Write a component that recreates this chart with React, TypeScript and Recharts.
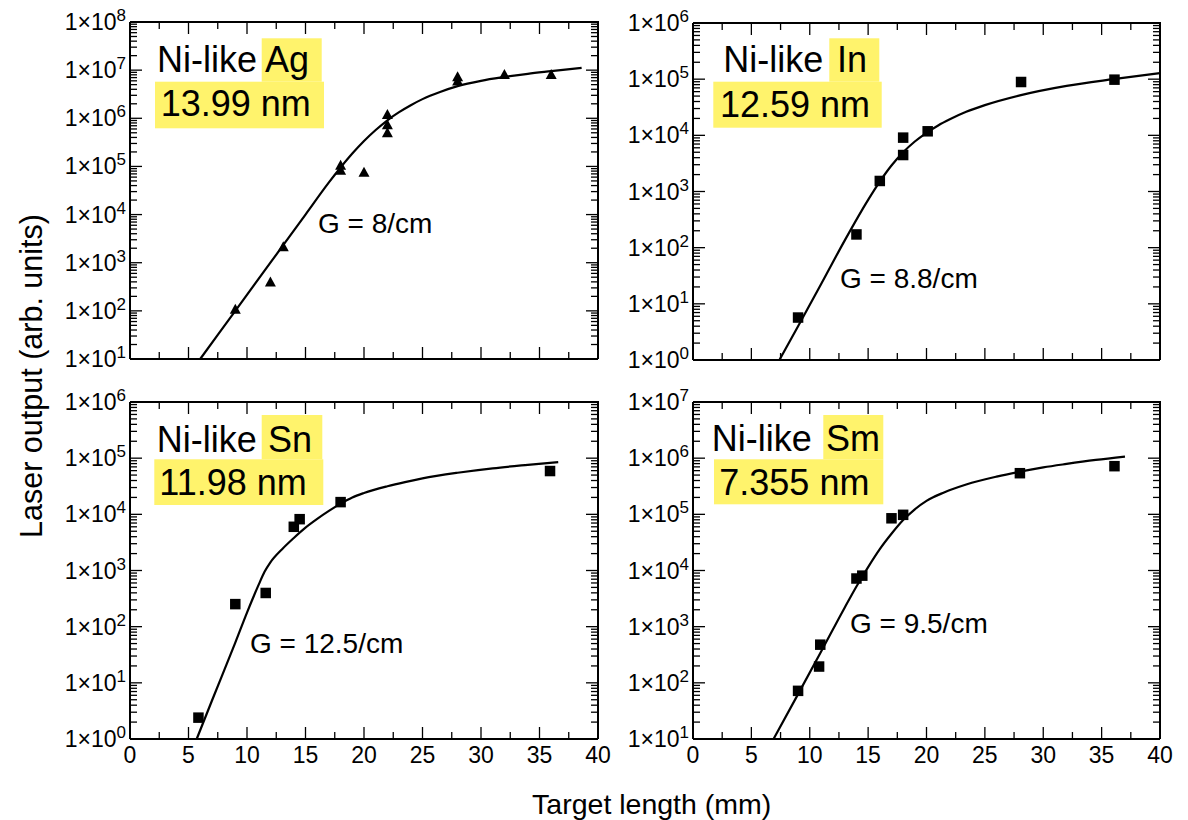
import React from "react";
import { ComposedChart, Line, XAxis, YAxis } from "recharts";

const FONT = "'Liberation Sans', Arial, Helvetica, sans-serif";
const HILITE = "#fff36c";

// Ni-like Ag, 13.99 nm (triangles)
const agLength = [9, 12, 13.1, 18, 18, 20, 22, 22, 22, 28, 28, 32, 36];
const agOutput = [105, 390, 2100, 1.03e5, 8.1e4, 7.4e4, 1.17e6, 7.2e5, 4.9e5, 7.1e6, 5.8e6, 7.9e6, 7.9e6];
const agFitLength = [6, 9, 12, 15, 17, 18, 19, 20, 21, 22, 23, 24, 25, 26.5, 28, 30, 32, 34, 36, 38.6];
const agFitOutput = [10, 100, 1000, 1.0e4, 4.65e4, 9.5e4, 1.85e5, 3.37e5, 5.7e5, 9.1e5, 1.34e6, 1.87e6, 2.5e6, 3.52e6, 4.65e6, 6.0e6, 7.2e6, 8.4e6, 9.5e6, 1.11e7];

// Ni-like In, 12.59 nm
const inLength = [9, 14, 16, 18, 18, 20.1, 28.1, 36.1];
const inOutput = [5.7, 172, 1540, 9100, 4460, 1.18e4, 8.9e4, 9.8e4];
const inFitLength = [7.4, 9, 11, 13, 15, 16, 17, 18, 19, 20, 21, 22, 23.4, 25, 28, 32, 36, 40];
const inFitOutput = [1, 4, 23, 135, 710, 1500, 2900, 5000, 7760, 1.11e4, 1.5e4, 1.93e4, 2.62e4, 3.45e4, 5.15e4, 7.6e4, 1.0e5, 1.28e5];

// Ni-like Sn, 11.98 nm
const snLength = [5.85, 9, 11.6, 14, 14.5, 18, 35.9];
const snOutput = [2.4, 252, 398, 6000, 8200, 1.65e4, 5.9e4];
const snFitLength = [5.7, 7, 9, 10, 11, 11.5, 12, 13, 14, 15, 16, 17, 18, 19, 20, 22, 23.5, 25, 28, 31, 34, 36.6];
const snFitOutput = [1, 4.8, 52, 178, 560, 950, 1400, 2400, 3800, 5800, 8300, 1.15e4, 1.55e4, 2.0e4, 2.4e4, 3.16e4, 3.75e4, 4.37e4, 5.5e4, 6.6e4, 7.6e4, 8.5e4];

// Ni-like Sm, 7.355 nm
const smLength = [9, 10.8, 10.9, 14, 14.5, 17, 18, 28, 36.1];
const smOutput = [72, 195, 478, 7200, 8100, 8.5e4, 9.8e4, 5.4e5, 7.2e5];
const smFitLength = [6.9, 9, 11, 13, 14, 15, 16, 17, 18, 19, 20, 21.5, 23.4, 26, 28, 30, 32, 34.5, 37];
const smFitOutput = [10, 63, 370, 2200, 5200, 1.15e4, 2.4e4, 4.5e4, 7.9e4, 1.23e5, 1.74e5, 2.45e5, 3.4e5, 4.7e5, 5.75e5, 6.85e5, 7.9e5, 9.3e5, 1.07e6];

const xTicks: number[] = [];
for (let v = 0; v <= 40; v += 2.5) xTicks.push(v);

type Pt = { x: number; y: number };
const zip = (xs: number[], ys: number[]): Pt[] => xs.map((x, i) => ({ x, y: ys[i] }));

function logTicks(lo: number, hi: number) {
  const t: number[] = [];
  for (let e = lo; e < hi; e++) for (let m = 1; m < 10; m++) t.push(m * 10 ** e);
  t.push(10 ** hi);
  return t;
}

const isDecade = (v: number) => {
  const lg = Math.log10(v);
  return Math.abs(lg - Math.round(lg)) < 1e-6;
};

function XTick(props: any) {
  const { x, y, payload, labels } = props;
  const v = payload.value as number;
  const major = v % 5 === 0;
  return (
    <g>
      <line x1={x} x2={x} y1={y} y2={y - (major ? 12 : 7)} stroke="#000" strokeWidth={1.3} />
      {labels && major ? (
        <text x={x} y={y + 24} textAnchor="middle" fontFamily={FONT} fontSize={23} fill="#000">
          {v}
        </text>
      ) : null}
    </g>
  );
}

function YTick(props: any) {
  const { x, y, payload } = props;
  const major = isDecade(payload.value);
  return (
    <g>
      <line x1={x} x2={x + (major ? 12 : 7)} y1={y} y2={y} stroke="#000" strokeWidth={1.3} />
      {major ? (
        <text x={x - 4} y={y + 8} textAnchor="end" fontFamily={FONT} fontSize={23} fill="#000">
          1×10
          <tspan fontSize={17} dy={-9}>
            {Math.round(Math.log10(payload.value))}
          </tspan>
        </text>
      ) : null}
    </g>
  );
}

function Marker(props: any) {
  const { cx, cy, kind } = props;
  if (cx == null || cy == null) return <g />;
  if (kind === "triangle") {
    return <polygon points={`${cx},${cy - 6} ${cx - 5.5},${cy + 4} ${cx + 5.5},${cy + 4}`} fill="#000" />;
  }
  return <rect x={cx - 5.25} y={cy - 5.25} width={10.5} height={10.5} fill="#000" />;
}

type PanelCfg = {
  key: string;
  left: number;
  top: number;
  w: number;
  h: number;
  expLo: number;
  expHi: number;
  pts: Pt[];
  fit: Pt[];
  marker: "square" | "triangle";
  xLabels: boolean;
};

const panels: PanelCfg[] = [
  { key: "ag", left: 130, top: 22, w: 468, h: 337, expLo: 1, expHi: 8, pts: zip(agLength, agOutput), fit: zip(agFitLength, agFitOutput), marker: "triangle", xLabels: false },
  { key: "in", left: 693, top: 23, w: 467, h: 337, expLo: 0, expHi: 6, pts: zip(inLength, inOutput), fit: zip(inFitLength, inFitOutput), marker: "square", xLabels: false },
  { key: "sn", left: 130, top: 402, w: 468, h: 337, expLo: 0, expHi: 6, pts: zip(snLength, snOutput), fit: zip(snFitLength, snFitOutput), marker: "square", xLabels: true },
  { key: "sm", left: 693, top: 402, w: 467, h: 337, expLo: 1, expHi: 7, pts: zip(smLength, smOutput), fit: zip(smFitLength, smFitOutput), marker: "square", xLabels: true },
];

function Panel({ left, top, w, h, expLo, expHi, pts, fit, marker, xLabels }: PanelCfg) {
  const yTicks = logTicks(expLo, expHi);
  const domain = [10 ** expLo, 10 ** expHi];
  return (
    <div style={{ position: "absolute", left: left - 70, top: top - 20 }}>
      <ComposedChart width={w + 90} height={h + 60} margin={{ top: 20, right: 20, bottom: 0, left: 0 }}>
        <XAxis
          xAxisId="b"
          dataKey="x"
          type="number"
          domain={[0, 40]}
          ticks={xTicks}
          interval={0}
          tickSize={0}
          tickMargin={0}
          height={40}
          axisLine={{ stroke: "#000", strokeWidth: 2 }}
          tick={(p: any) => <XTick {...p} labels={xLabels} />}
        />
        <YAxis
          yAxisId="l"
          dataKey="y"
          type="number"
          scale="log"
          domain={domain}
          ticks={yTicks}
          interval={0}
          tickSize={0}
          tickMargin={0}
          width={70}
          axisLine={{ stroke: "#000", strokeWidth: 2 }}
          tick={(p: any) => <YTick {...p} />}
        />
        <Line
          xAxisId="b"
          yAxisId="l"
          data={fit}
          dataKey="y"
          type="monotone"
          stroke="#000"
          strokeWidth={2.2}
          dot={false}
          isAnimationActive={false}
        />
        {/* measured points: markers only */}
        <Line
          xAxisId="b"
          yAxisId="l"
          data={pts}
          dataKey="y"
          stroke="none"
          dot={(p: any) => <Marker key={`m${p.index}`} cx={p.cx} cy={p.cy} kind={marker} />}
          isAnimationActive={false}
        />
      </ComposedChart>
    </div>
  );
}

// closing top/right edges of each box with inward mirrored ticks
function Frames() {
  return (
    <svg width={1188} height={820} style={{ position: "absolute", left: 0, top: 0, pointerEvents: "none" }}>
      {panels.map((p) => {
        const r = p.left + p.w;
        const yTicks = logTicks(p.expLo, p.expHi);
        return (
          <g key={p.key} stroke="#000">
            <line x1={p.left} x2={r + 1} y1={p.top} y2={p.top} strokeWidth={2} />
            <line x1={r} x2={r} y1={p.top} y2={p.top + p.h} strokeWidth={2} />
            {xTicks.map((v) => {
              const x = p.left + (v / 40) * p.w;
              return <line key={`x${v}`} x1={x} x2={x} y1={p.top} y2={p.top + (v % 5 === 0 ? 12 : 7)} strokeWidth={1.3} />;
            })}
            {yTicks.map((v) => {
              const y = p.top + p.h - ((Math.log10(v) - p.expLo) / (p.expHi - p.expLo)) * p.h;
              return <line key={`y${v}`} x1={r} x2={r - (isDecade(v) ? 12 : 7)} y1={y} y2={y} strokeWidth={1.3} />;
            })}
          </g>
        );
      })}
    </svg>
  );
}

type Note = {
  element: string;
  wave: string;
  gain: string;
  nx: number;
  ny: number;
  box1: [number, number, number, number];
  ex: number;
  box2: [number, number, number, number];
  wx: number;
  wy: number;
  gx: number;
  gy: number;
};

const notes: Note[] = [
  { element: "Ag", wave: "13.99 nm", gain: "G = 8/cm", nx: 157, ny: 72, box1: [261.7, 38.3, 60, 43.4], ex: 265, box2: [155, 81.7, 169, 46.6], wx: 160.7, wy: 116, gx: 318, gy: 233 },
  { element: "In", wave: "12.59 nm", gain: "G = 8.8/cm", nx: 723.3, ny: 72, box1: [829.3, 38.3, 50, 43.4], ex: 837, box2: [713.3, 81.7, 168.4, 46], wx: 720, wy: 116.5, gx: 840, gy: 288 },
  { element: "Sn", wave: "11.98 nm", gain: "G = 12.5/cm", nx: 156.7, ny: 451.7, box1: [261.7, 415, 60.6, 44.3], ex: 268, box2: [154.3, 459.3, 169, 45.7], wx: 159.3, wy: 495, gx: 250, gy: 653 },
  { element: "Sm", wave: "7.355 nm", gain: "G = 9.5/cm", nx: 711.7, ny: 451, box1: [823.3, 415, 60, 44.3], ex: 826, box2: [714, 459.3, 169.3, 45], wx: 719.3, wy: 495, gx: 850, gy: 632.7 },
];

function Overlay() {
  return (
    <svg width={1188} height={820} style={{ position: "absolute", left: 0, top: 0 }}>
      {notes.map((n) => (
        <g key={n.element} fontFamily={FONT} fill="#000">
          <rect x={n.box1[0]} y={n.box1[1]} width={n.box1[2]} height={n.box1[3]} fill={HILITE} />
          <rect x={n.box2[0]} y={n.box2[1]} width={n.box2[2]} height={n.box2[3]} fill={HILITE} />
          <text x={n.nx} y={n.ny} fontSize={36}>
            Ni-like
          </text>
          <text x={n.ex} y={n.ny} fontSize={36}>
            {n.element}
          </text>
          <text x={n.wx} y={n.wy} fontSize={36}>
            {n.wave}
          </text>
          <text x={n.gx} y={n.gy} fontSize={28}>
            {n.gain}
          </text>
        </g>
      ))}
      <text
        x={41.7}
        y={376}
        transform="rotate(-90 41.7 376)"
        textAnchor="middle"
        fontFamily={FONT}
        fontSize={30.5}
        fill="#000"
      >
        Laser output (arb. units)
      </text>
      <text x={651.7} y={814} textAnchor="middle" fontFamily={FONT} fontSize={28.5} fill="#000">
        Target length (mm)
      </text>
    </svg>
  );
}

export default function App() {
  return (
    <div style={{ position: "absolute", left: 0, top: 0, width: 1188, height: 820, background: "#fff" }}>
      <Overlay />
      {panels.map((p) => (
        <Panel {...p} />
      ))}
      <Frames />
    </div>
  );
}
